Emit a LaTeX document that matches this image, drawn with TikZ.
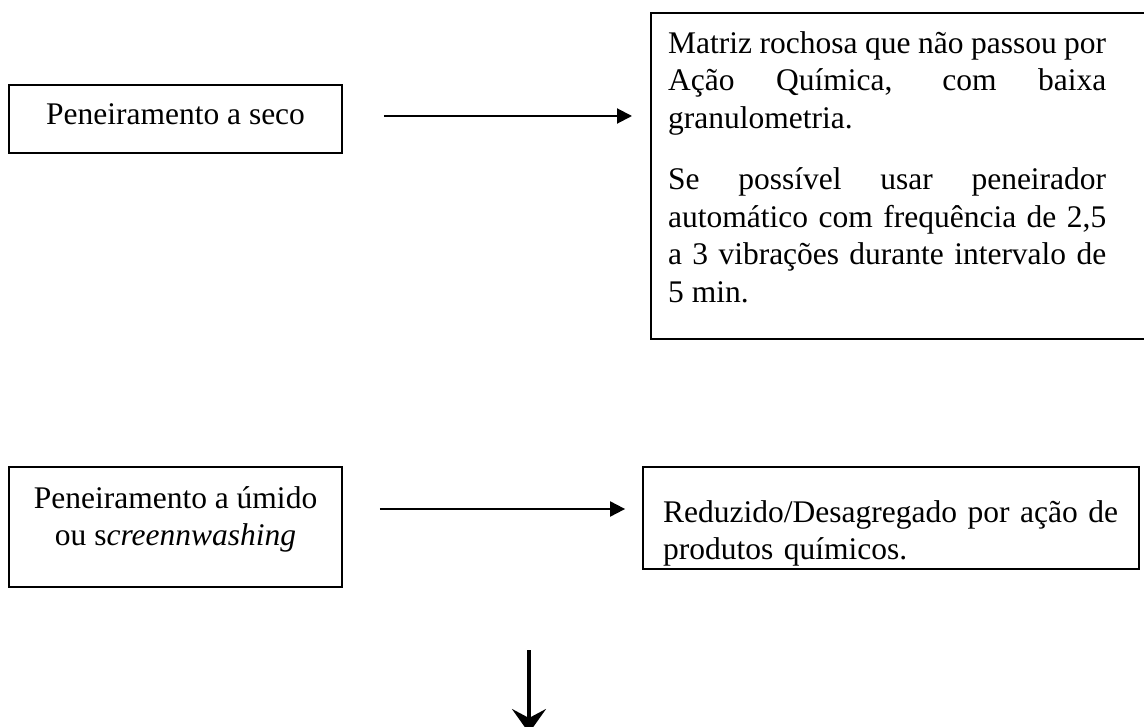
\documentclass[tikz,border=0pt]{standalone}
\usepackage{fontspec}
\setmainfont{Liberation Serif}
\usetikzlibrary{arrows.meta}
\hyphenpenalty=10000
\hbadness=10000
\tolerance=10000
\begin{document}
\begin{tikzpicture}[x=1pt,y=-1pt,
  box/.style={draw, line width=1.8pt, inner sep=0pt},
  txt/.style={inner sep=0pt, font=\fontsize{31.5}{37.5}\selectfont},
  harrow/.style={line width=2pt, -{Triangle[length=15pt,width=15pt]}},
  darrow/.style={line width=3.2pt, -{Stealth[length=24pt,width=34pt,inset=9pt]}}]
\useasboundingbox (0,0) rectangle (1144,727);
\fill[white] (0,0) rectangle (1144,727);

% boxes
\node[box, minimum width=333, minimum height=68] (b1) at (175.5,119) {};
\node[box, anchor=north west, minimum width=510, minimum height=326] (b2) at (650,12) {};
\node[box, minimum width=333, minimum height=120] (b3) at (175.5,527) {};
\node[box, minimum width=496, minimum height=102] (b4) at (891,518) {};

% texts
\node[txt, anchor=base] (b1t) at (175.5,125) {Peneiramento a seco};
\node[txt, anchor=north west, text width=438pt, align=justify] (b2t) at (668,31)
  {Matriz rochosa que não passou por\linebreak Ação Química, com baixa\linebreak granulometria.\\[24pt]Se possível usar peneirador\linebreak automático com frequência de 2,5\linebreak a 3 vibrações durante intervalo de\linebreak 5 min.};
\node[txt, anchor=north, align=center] (b3t) at (175.5,486)
  {Peneiramento a úmido\\ou s\textit{creennwashing}};
\node[txt, anchor=north west, align=left, text width=470pt] (b4t) at (663,500)
  {Reduzido/Desagregado por ação de\\produtos químicos.};

% connectors
\draw[harrow, shorten <=41pt, shorten >=18pt] ([yshift=3pt]b1.east) -- ([yshift=3pt]b1.east -| b2.west);
\draw[harrow, shorten <=37pt, shorten >=17pt] ([yshift=18pt]b3.east) -- ([yshift=18pt]b3.east -| b4.west);
\coordinate (d1) at (529,650);
\coordinate (d2) at (529,733);
\draw[darrow] (d1) -- (d2);
\end{tikzpicture}
\end{document}
